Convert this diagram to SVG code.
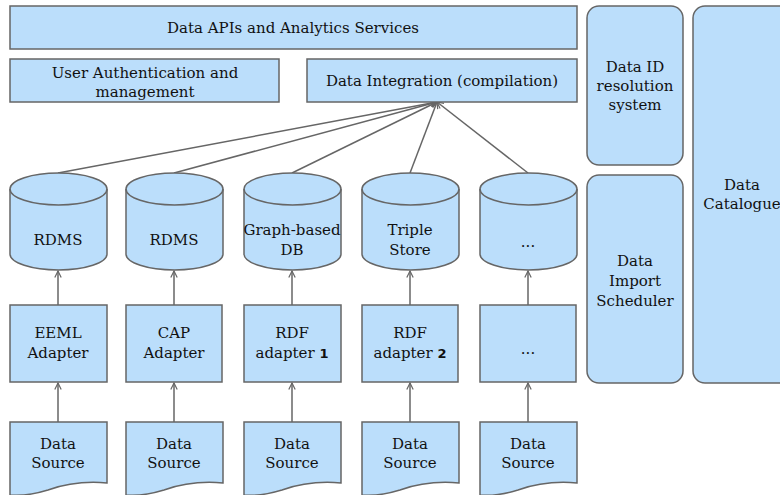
<svg xmlns="http://www.w3.org/2000/svg" width="780" height="495" viewBox="0 0 780 495">
  <defs>
    <style>
      .box { fill: #bbdefb; stroke: #666666; stroke-width: 1.5; }
      .lbl { font-family: "DejaVu Serif", "Liberation Serif", serif; font-size: 15px; fill: #111111; text-anchor: middle; }
      .num { font-family: "DejaVu Sans", "Liberation Sans", sans-serif; font-weight: bold; font-size: 13px; }
      .edge { fill: none; stroke: #666666; stroke-width: 1.5; }
    </style>
    <marker id="arrow" viewBox="0 0 10 10" refX="9" refY="5" markerWidth="8" markerHeight="8" markerUnits="userSpaceOnUse" orient="auto">
      <path d="M1,1 L9,5 L1,9" fill="none" stroke="#666666" stroke-width="1.5"/>
    </marker>
    <!-- cylinder shape, origin at top-left of bounding box, 97 x 97 -->
    <g id="cyl">
      <path class="box" d="M0,16 A48.5,16 0 0 1 97,16 V81 A48.5,16 0 0 1 0,81 Z"/>
      <path class="edge" d="M0,16 A48.5,16 0 0 0 97,16"/>
    </g>
    <!-- document shape with wavy lower edge -->
    <path id="doc" class="box" d="M0,0 H97 V61 C75,59 55,62 38,68 C25,72 10,74 0,73 Z"/>
  </defs>

  <!-- connectors -->
  <g id="connectors">
    <line class="edge" x1="58" y1="173" x2="437" y2="102" marker-end="url(#arrow)"/>
    <line class="edge" x1="174" y1="173" x2="437" y2="102" marker-end="url(#arrow)"/>
    <line class="edge" x1="292" y1="173" x2="437" y2="102" marker-end="url(#arrow)"/>
    <line class="edge" x1="410" y1="173" x2="437" y2="102" marker-end="url(#arrow)"/>
    <line class="edge" x1="528" y1="173" x2="437" y2="102" marker-end="url(#arrow)"/>

    <line class="edge" x1="58" y1="305" x2="58" y2="271" marker-end="url(#arrow)"/>
    <line class="edge" x1="174" y1="305" x2="174" y2="271" marker-end="url(#arrow)"/>
    <line class="edge" x1="292" y1="305" x2="292" y2="271" marker-end="url(#arrow)"/>
    <line class="edge" x1="410" y1="305" x2="410" y2="271" marker-end="url(#arrow)"/>
    <line class="edge" x1="528" y1="305" x2="528" y2="271" marker-end="url(#arrow)"/>

    <line class="edge" x1="58" y1="422" x2="58" y2="383" marker-end="url(#arrow)"/>
    <line class="edge" x1="174" y1="422" x2="174" y2="383" marker-end="url(#arrow)"/>
    <line class="edge" x1="292" y1="422" x2="292" y2="383" marker-end="url(#arrow)"/>
    <line class="edge" x1="410" y1="422" x2="410" y2="383" marker-end="url(#arrow)"/>
    <line class="edge" x1="528" y1="422" x2="528" y2="383" marker-end="url(#arrow)"/>
  </g>

  <!-- service layer -->
  <g id="data-apis">
    <rect class="box" x="10" y="6" width="567" height="43"/>
    <text class="lbl" x="293" y="33">Data APIs and Analytics Services</text>
  </g>
  <g id="user-auth">
    <rect class="box" x="10" y="59" width="269" height="43"/>
    <text class="lbl" x="145" y="78">User Authentication and</text>
    <text class="lbl" x="145" y="97">management</text>
  </g>
  <g id="data-integration">
    <rect class="box" x="307" y="59" width="270" height="43"/>
    <text class="lbl" x="442" y="86">Data Integration (compilation)</text>
  </g>

  <!-- side services -->
  <g id="data-id-resolution">
    <rect class="box" x="587" y="6" width="96" height="159" rx="12"/>
    <text class="lbl" x="635" y="72">Data ID</text>
    <text class="lbl" x="635" y="91">resolution</text>
    <text class="lbl" x="635" y="110">system</text>
  </g>
  <g id="data-import-scheduler">
    <rect class="box" x="587" y="175" width="96" height="208" rx="12"/>
    <text class="lbl" x="635" y="266">Data</text>
    <text class="lbl" x="635" y="286">Import</text>
    <text class="lbl" x="635" y="306">Scheduler</text>
  </g>
  <g id="data-catalogue">
    <rect class="box" x="693" y="6" width="100" height="377" rx="12"/>
    <text class="lbl" x="742" y="190">Data</text>
    <text class="lbl" x="742" y="209">Catalogue</text>
  </g>

  <!-- storage -->
  <g id="store-1">
    <use href="#cyl" x="10" y="173"/>
    <text class="lbl" x="58" y="245">RDMS</text>
  </g>
  <g id="store-2">
    <use href="#cyl" x="126" y="173"/>
    <text class="lbl" x="174" y="245">RDMS</text>
  </g>
  <g id="store-3">
    <use href="#cyl" x="244" y="173"/>
    <text class="lbl" x="292" y="235">Graph-based</text>
    <text class="lbl" x="292" y="255">DB</text>
  </g>
  <g id="store-4">
    <use href="#cyl" x="362" y="173"/>
    <text class="lbl" x="410" y="235">Triple</text>
    <text class="lbl" x="410" y="255">Store</text>
  </g>
  <g id="store-5">
    <use href="#cyl" x="480" y="173"/>
    <text class="lbl" x="528" y="247">...</text>
  </g>

  <!-- adapters -->
  <g id="adapter-1">
    <rect class="box" x="10" y="305" width="97" height="77"/>
    <text class="lbl" x="58" y="338">EEML</text>
    <text class="lbl" x="58" y="358">Adapter</text>
  </g>
  <g id="adapter-2">
    <rect class="box" x="126" y="305" width="96" height="77"/>
    <text class="lbl" x="174" y="338">CAP</text>
    <text class="lbl" x="174" y="358">Adapter</text>
  </g>
  <g id="adapter-3">
    <rect class="box" x="244" y="305" width="97" height="77"/>
    <text class="lbl" x="292" y="338">RDF</text>
    <text class="lbl" x="292" y="358">adapter <tspan class="num">1</tspan></text>
  </g>
  <g id="adapter-4">
    <rect class="box" x="362" y="305" width="96" height="77"/>
    <text class="lbl" x="410" y="338">RDF</text>
    <text class="lbl" x="410" y="358">adapter <tspan class="num">2</tspan></text>
  </g>
  <g id="adapter-5">
    <rect class="box" x="480" y="305" width="96" height="77"/>
    <text class="lbl" x="528" y="354">...</text>
  </g>

  <!-- data sources -->
  <g id="source-1">
    <use href="#doc" x="10" y="422"/>
    <text class="lbl" x="58" y="449">Data</text>
    <text class="lbl" x="58" y="468">Source</text>
  </g>
  <g id="source-2">
    <use href="#doc" x="126" y="422"/>
    <text class="lbl" x="174" y="449">Data</text>
    <text class="lbl" x="174" y="468">Source</text>
  </g>
  <g id="source-3">
    <use href="#doc" x="244" y="422"/>
    <text class="lbl" x="292" y="449">Data</text>
    <text class="lbl" x="292" y="468">Source</text>
  </g>
  <g id="source-4">
    <use href="#doc" x="362" y="422"/>
    <text class="lbl" x="410" y="449">Data</text>
    <text class="lbl" x="410" y="468">Source</text>
  </g>
  <g id="source-5">
    <use href="#doc" x="480" y="422"/>
    <text class="lbl" x="528" y="449">Data</text>
    <text class="lbl" x="528" y="468">Source</text>
  </g>
</svg>
